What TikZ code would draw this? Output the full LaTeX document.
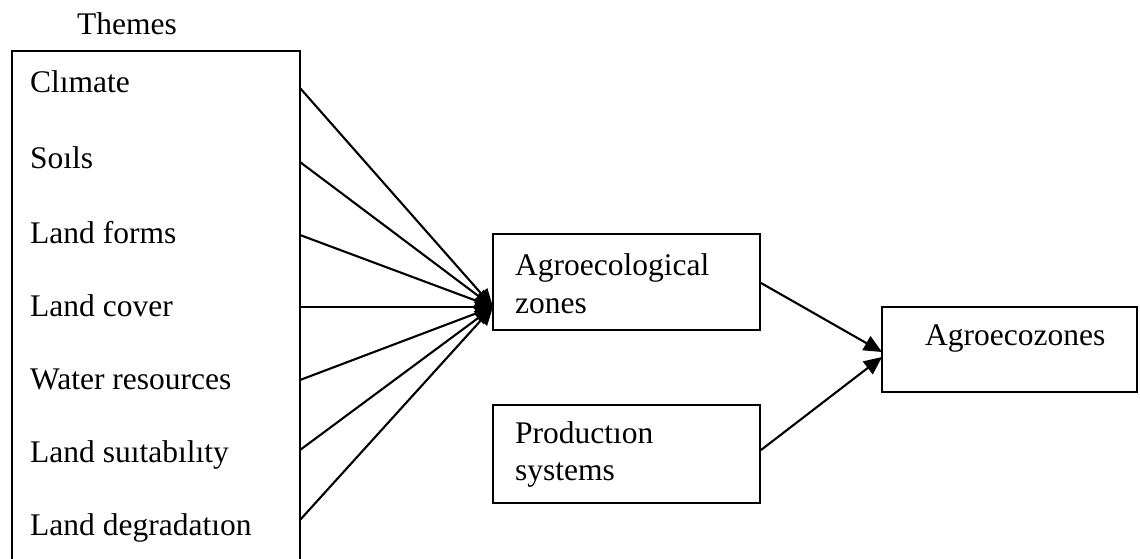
\documentclass[tikz,border=0pt]{standalone}
\usepackage{fontspec}
\setmainfont{Liberation Serif}
\usetikzlibrary{arrows.meta}
\begin{document}
\begin{tikzpicture}[x=1pt,y=-1pt,
  txt/.style={anchor=base west,inner sep=0pt,font=\fontsize{31.5}{37}\selectfont},
  boxline/.style={line width=2.2pt},
  link/.style={line width=2.1pt,-{Triangle[length=18pt,width=16pt]}}]
\useasboundingbox (0,0) rectangle (1140,559);
% Themes box (open at the bottom)
\coordinate (tnw) at (12,51);
\coordinate (tne) at (300,51);
\coordinate (tsw) at (12,562);
\coordinate (tse) at (300,562);
\draw[boxline] (tsw) -- (tnw) -- (tne) -- (tse);
\node[txt] (themes) at (77,35) {Themes};
\node[txt] (t1) at (30,93) {Clımate};
\node[txt] (t2) at (30,168) {Soıls};
\node[txt] (t3) at (30,243) {Land forms};
\node[txt] (t4) at (30,316) {Land cover};
\node[txt] (t5) at (30,389) {Water resources};
\node[txt] (t6) at (30,462) {Land suıtabılıty};
\node[txt] (t7) at (30,535) {Land degradatıon};
% middle boxes
\node[boxline,draw,minimum width=267pt,minimum height=96pt,inner sep=0pt] (agro) at (626.5,282) {};
\node[txt] (agrot) at (515,275) {Agroecological};
\node[txt] (agrot2) at (515,313) {zones};
\node[boxline,draw,minimum width=267pt,minimum height=98pt,inner sep=0pt] (prod) at (626.5,454) {};
\node[txt] (prodt) at (515,443) {Productıon};
\node[txt] (prodt2) at (515,480) {systems};
\node[boxline,draw,minimum width=255pt,minimum height=85pt,inner sep=0pt] (zones) at (1009.5,349.5) {};
\node[txt] (zonest) at (925,345) {Agroecozones};
% connector points
\coordinate (c1) at (300,88);
\coordinate (c2) at (300,162);
\coordinate (c3) at (300,235);
\coordinate (c4) at (300,307);
\coordinate (c5) at (300,380);
\coordinate (c6) at (300,450);
\coordinate (c7) at (300,520);
\coordinate (ain) at (493,307);
\foreach \c in {c1,c2,c3,c4,c5,c6,c7} \draw[link] (\c) -- (ain);
\coordinate (aout) at (761,283);
\coordinate (pout) at (761,450);
\coordinate (zin1) at (882,352);
\coordinate (zin2) at (882,357);
\draw[link] (aout) -- (zin1);
\draw[link] (pout) -- (zin2);
\end{tikzpicture}
\end{document}
